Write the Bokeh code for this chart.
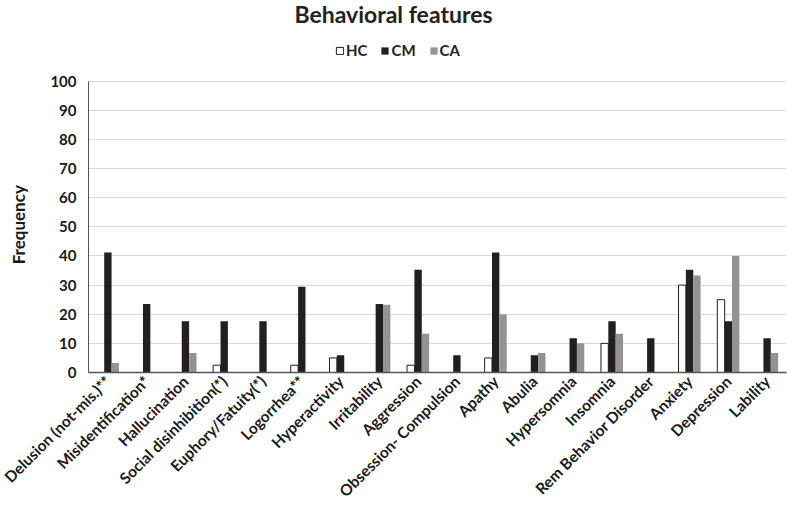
from bokeh.plotting import figure
from bokeh.models import ColumnDataSource, Legend, LegendItem, FactorRange, Range1d, Label
from bokeh.transform import dodge
from bokeh.embed import file_html
from bokeh.resources import INLINE

title_text = "Behavioral features"
y_label = "Frequency"
categories = ["Delusion (not-mis.)**", "Misidentification*", "Hallucination",
              "Social disinhibition(*)", "Euphory/Fatuity(*)", "Logorrhea**",
              "Hyperactivity", "Irritability", "Aggression", "Obsession- Compulsion",
              "Apathy", "Abulia", "Hypersomnia", "Insomnia", "Rem Behavior Disorder",
              "Anxiety", "Depression", "Lability"]
hc = [0, 0, 0, 2.5, 0, 2.5, 5, 0, 2.5, 0, 5, 0, 0, 10, 0, 30, 25, 0]
cm = [41.2, 23.5, 17.6, 17.6, 17.6, 29.4, 5.9, 23.5, 35.3, 5.9, 41.2, 5.9, 11.8, 17.6, 11.8, 35.3, 17.6, 11.8]
ca = [3.3, 0, 6.7, 0, 0, 0, 0, 23.3, 13.3, 0, 20, 6.7, 10, 13.3, 0, 33.3, 40, 6.7]
y_ticks = [0, 10, 20, 30, 40, 50, 60, 70, 80, 90, 100]

src = ColumnDataSource(dict(cat=categories, hc=hc, cm=cm, ca=ca))

FONT = "Lato"
TXT = "#1a1a1a"

p = figure(width=787, height=509, x_range=FactorRange(*categories, range_padding=0),
           y_range=Range1d(0, 127.7), output_backend="svg", toolbar_location=None,
           min_border_left=88, min_border_right=1, min_border_bottom=0, min_border_top=0)

w = 0.19
r_hc = p.vbar(x=dodge("cat", -w, range=p.x_range), top="hc", width=w, source=src,
              fill_color="white", line_color="#231f20", line_width=1)
r_cm = p.vbar(x=dodge("cat", 0, range=p.x_range), top="cm", width=w, source=src,
              fill_color="#231f20", line_color=None)
r_ca = p.vbar(x=dodge("cat", w, range=p.x_range), top="ca", width=w, source=src,
              fill_color="#939393", line_color=None)

title = Label(x=7.865, y=123.2, text=title_text, text_align="center",
              text_baseline="alphabetic", text_font=FONT, text_font_size="23px",
              text_font_style="bold", text_color="#222222")
p.add_layout(title)

legend = Legend(items=[LegendItem(label="HC", renderers=[r_hc]),
                       LegendItem(label="CM", renderers=[r_cm]),
                       LegendItem(label="CA", renderers=[r_ca])],
                orientation="horizontal", location=(247, 313),
                label_text_font=FONT, label_text_font_size="15px", label_text_font_style="bold",
                label_text_color="#222222", glyph_width=9, glyph_height=9, label_standoff=2,
                spacing=13, padding=2, margin=0, border_line_color=None, background_fill_alpha=0)
p.add_layout(legend)

p.outline_line_color = None
p.xgrid.grid_line_color = None
p.ygrid.grid_line_color = "#d9d9d9"
p.ygrid.grid_line_width = 1

p.yaxis.ticker = y_ticks
p.yaxis.bounds = (0, 100)
# trailing em spaces keep the label centred on the 0-100 span rather than the whole frame
p.yaxis.axis_label = y_label + "\u2003" * 6
p.yaxis.axis_label_text_font = FONT
p.yaxis.axis_label_text_font_size = "17px"
p.yaxis.axis_label_text_font_style = "bold"
p.yaxis.axis_label_text_color = TXT
p.yaxis.axis_label_standoff = 18
p.yaxis.major_label_text_font = FONT
p.yaxis.major_label_text_font_size = "15px"
p.yaxis.major_label_text_font_style = "bold"
p.yaxis.major_label_text_color = TXT
p.yaxis.major_tick_line_color = None
p.yaxis.major_tick_out = 0
p.yaxis.major_tick_in = 0
p.yaxis.minor_tick_line_color = None
p.yaxis.axis_line_color = "#555555"
p.yaxis.major_label_standoff = 12

p.xaxis.major_label_orientation = 0.785398
p.xaxis.major_label_text_font = FONT
p.xaxis.major_label_text_font_size = "15.5px"
p.xaxis.major_label_text_font_style = "bold"
p.xaxis.major_label_text_color = TXT
p.xaxis.major_tick_line_color = None
p.xaxis.major_tick_out = 0
p.xaxis.major_tick_in = 0
p.xaxis.axis_line_color = "#555555"
p.xaxis.axis_line_width = 1.5
p.xaxis.major_label_standoff = 6

open("out.html", "w").write(file_html(p, INLINE))
